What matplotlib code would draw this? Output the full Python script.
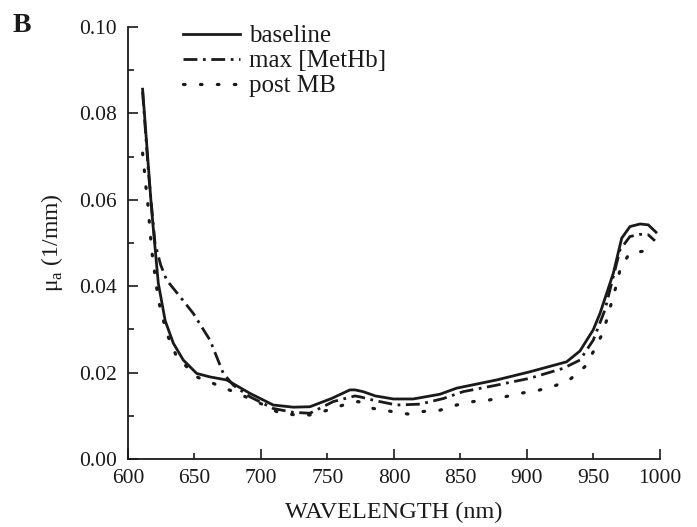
import numpy as np
import matplotlib
matplotlib.use("Agg")
import matplotlib.pyplot as plt
from matplotlib.ticker import MultipleLocator, FormatStrFormatter

plt.rcParams['font.family'] = ['Liberation Serif', 'DejaVu Serif']
plt.rcParams['mathtext.fontset'] = 'custom'
plt.rcParams['mathtext.rm'] = 'Liberation Serif'

# baseline (solid)
baseline_wl = [611, 617.8, 622.8, 628, 634.1, 641.6, 651.7, 661.7, 674.2, 691.7, 709.2, 724.3,
               736.8, 753, 766.9, 770.7, 776.7, 786, 799.5, 814.5, 834.6, 847.1, 877.2, 902.3,
               929.8, 939.8, 949.8, 954.9, 964.9, 971.2, 977.4, 985, 991.2, 997]
baseline = [0.0856, 0.0576, 0.0407, 0.032, 0.0268, 0.0229, 0.0198, 0.019, 0.0183, 0.0152,
            0.0125, 0.0120, 0.0121, 0.0140, 0.016, 0.016, 0.0156, 0.0146, 0.0139, 0.0139,
            0.0150, 0.0164, 0.0183, 0.0202, 0.0225, 0.025, 0.0299, 0.0337, 0.043, 0.0511,
            0.0538, 0.0544, 0.0542, 0.0525]

# max [MetHb] (dash-dot)
methb_wl = [611, 615.5, 620.3, 624.5, 629.1, 639.1, 649.1, 661.7, 671.7, 679.2, 691.7, 709.2,
            724.3, 736.8, 754.4, 770.7, 774.4, 786, 802, 819.5, 837.1, 852.1, 877.2, 902.3,
            927.3, 939.8, 949.8, 958.6, 964.9, 969.9, 977.4, 985, 991.2, 996.2]
methb = [0.085, 0.066, 0.050, 0.045, 0.0414, 0.0376, 0.0337, 0.0275, 0.0198, 0.0171, 0.0144,
         0.0117, 0.0108, 0.0106, 0.0133, 0.0146, 0.0144, 0.0135, 0.0125, 0.0127, 0.014,
         0.0156, 0.0171, 0.0187, 0.021, 0.0229, 0.0275, 0.0345, 0.0422, 0.0484, 0.0515,
         0.052, 0.0519, 0.0505]

# post MB (dotted)
post_wl = [611, 612.3, 613.5, 614.8, 617.8, 622.8, 629.1, 636.6, 651.7, 664.1, 679.2, 696.8,
           714.3, 726.8, 736.8, 748.9, 761.9, 773.2, 784.4, 798.3, 810.8, 822, 834.6, 847.1,
           859.6, 870.7, 883.5, 894.7, 907.3, 918.6, 931.1, 943.6, 949.8, 956.2, 960.4,
           963.7, 966.9, 969.9, 976.9, 989.5, 995]
post = [0.0708, 0.0669, 0.063, 0.0596, 0.0484, 0.0368, 0.0291, 0.0237, 0.019, 0.0175,
        0.0156, 0.0133, 0.0106, 0.0102, 0.0102, 0.0112, 0.0125, 0.0133, 0.0117, 0.011,
        0.0104, 0.011, 0.0113, 0.0125, 0.0133, 0.0136, 0.0144, 0.0152, 0.0158, 0.0167,
        0.0181, 0.0214, 0.0248, 0.0287, 0.0326, 0.0364, 0.0399, 0.0437, 0.0476, 0.0482,
        0.0495]

fig = plt.figure(figsize=(6.97, 5.27), dpi=100)
ax = fig.add_axes([0.1836, 0.129, 0.7633, 0.8198])

ax.plot(baseline_wl, baseline, color='#1a1a1a', lw=2.0, label='baseline')
ax.plot(methb_wl, methb, color='#1a1a1a', lw=2.0, linestyle=(0, (5, 2, 1, 2)),
        label='max [MetHb]')
ax.plot(post_wl, post, color='#1a1a1a', lw=2.3, linestyle=(0, (0.5, 4.8)),
        dash_capstyle='round', label='post MB')

ax.set_xlim(600, 1000)
ax.set_ylim(0, 0.10)
ax.xaxis.set_major_locator(MultipleLocator(100))
ax.xaxis.set_minor_locator(MultipleLocator(50))
ax.xaxis.set_minor_formatter(FormatStrFormatter('%d'))
ax.yaxis.set_major_locator(MultipleLocator(0.02))
ax.yaxis.set_minor_locator(MultipleLocator(0.01))
ax.yaxis.set_major_formatter(FormatStrFormatter('%.2f'))
ax.tick_params(which='both', direction='in', labelsize=15.5, color='#1a1a1a', width=1.2,
               labelcolor='#1a1a1a')
ax.tick_params(which='major', length=7)
ax.tick_params(which='minor', length=4.5)
ax.tick_params(axis='y', which='both', pad=8)
ax.tick_params(axis='x', which='both', pad=7)
for s in ['top', 'right']:
    ax.spines[s].set_visible(False)
for s in ['left', 'bottom']:
    ax.spines[s].set_linewidth(1.3)
    ax.spines[s].set_color('#1a1a1a')

ax.set_xlabel('WAVELENGTH (nm)', fontsize=17.5, labelpad=10, color='#1a1a1a')
ax.set_ylabel(r'μ$_\mathrm{a}$ (1/mm)', fontsize=17, labelpad=10, color='#1a1a1a')

ax.legend(loc='upper left', bbox_to_anchor=(0.103, 1.005), frameon=False, fontsize=18,
          handlelength=2.3, handletextpad=0.35, labelspacing=0.1, borderpad=0,
          borderaxespad=0, labelcolor='#1a1a1a')

fig.text(0.018, 0.939, 'B', fontsize=20, fontweight='bold', color='#1a1a1a')

fig.savefig('out.png', dpi=100)
